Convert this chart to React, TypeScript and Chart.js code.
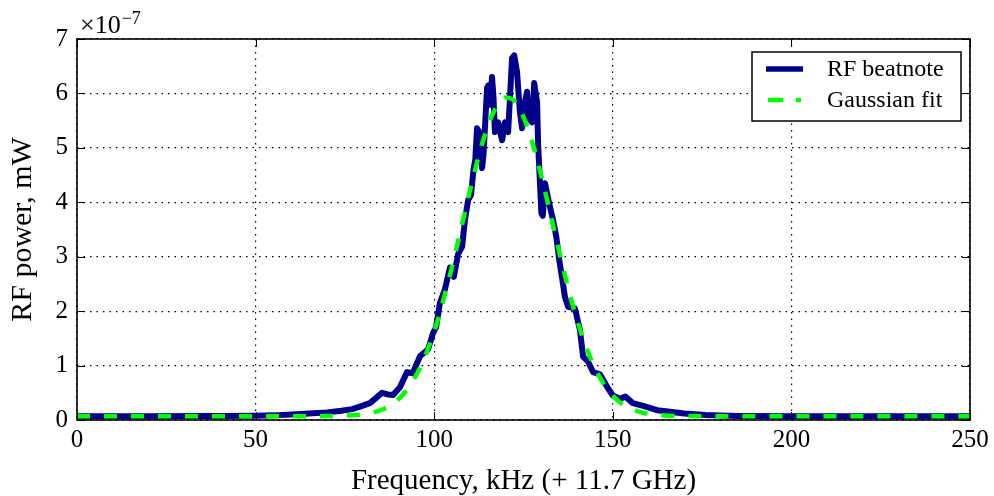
import React, { useEffect, useRef } from "react";
import { Chart, registerables } from "chart.js";

Chart.register(...registerables);

// Measured RF beatnote (x: kHz offset from 11.7 GHz, y: power in units of 1e-7 mW)
const rfFreq = [0, 20, 40, 50, 55, 60, 65, 70, 74, 77, 79, 82, 84, 85.4, 87, 88.5, 90.4, 92.4, 94, 96, 98.3, 99.7, 100.5, 101.6, 103, 104.4, 105.5, 106.7, 107.8, 108.6, 109.5, 110.3, 111, 111.5, 112, 112.8, 113.4, 113.8, 114.8, 115.2, 115.6, 116.2, 116.6, 117, 117.9, 119, 119.8, 120.7, 121.8, 122.4, 123.2, 124, 124.6, 125.4, 126, 126.3, 127.4, 128, 128.8, 129.1, 129.6, 130, 130.4, 131, 132.3, 133.2, 134.2, 135, 135.9, 136.6, 137.5, 139.4, 140.8, 141.7, 143, 144.5, 146.4, 148.4, 150, 152, 153.5, 155.6, 158.5, 162.4, 166, 170, 176, 185, 200, 250];
const rfPower = [0.07, 0.07, 0.075, 0.08, 0.085, 0.1, 0.12, 0.14, 0.17, 0.2, 0.24, 0.31, 0.42, 0.5, 0.47, 0.46, 0.6, 0.88, 0.86, 1.17, 1.3, 1.6, 1.7, 2.15, 2.4, 2.8, 2.63, 3.05, 3.18, 3.67, 4.04, 4.13, 4.6, 4.78, 5.36, 5.27, 4.63, 4.87, 6.1, 6.15, 5.79, 6.3, 5.92, 5.29, 5.47, 5.14, 5.47, 5.29, 6.65, 6.7, 6.39, 5.66, 5.36, 5.84, 6.03, 5.55, 5.47, 6.19, 5.84, 5.05, 4.37, 3.8, 3.75, 4.35, 3.95, 3.7, 3.36, 2.94, 2.57, 2.26, 2.08, 2.05, 1.65, 1.16, 1.08, 0.88, 0.84, 0.61, 0.45, 0.39, 0.43, 0.31, 0.26, 0.18, 0.15, 0.12, 0.09, 0.075, 0.07, 0.07];

// Gaussian fit curve
const fitFreq = [0, 50, 66, 70, 74, 78, 80, 82, 84, 86, 88, 90, 92, 94, 96, 98, 100, 102, 104, 106, 108, 110, 112, 114, 116, 118, 120, 122, 124, 126, 128, 130, 132, 134, 136, 138, 140, 142, 144, 146, 148, 150, 152, 154, 156, 158, 160, 163, 166, 170, 180, 250];
const fitPower = [0.07, 0.07, 0.07, 0.072, 0.076, 0.09, 0.1, 0.125, 0.158, 0.208, 0.28, 0.383, 0.524, 0.712, 0.955, 1.26, 1.63, 2.065, 2.557, 3.09, 3.65, 4.21, 4.737, 5.2, 5.567, 5.816, 5.925, 5.888, 5.71, 5.397, 4.98, 4.48, 3.934, 3.37, 2.82, 2.3, 1.84, 1.44, 1.1, 0.826, 0.611, 0.448, 0.327, 0.241, 0.181, 0.14, 0.113, 0.09, 0.079, 0.073, 0.07, 0.07];

const xTicks = [0, 50, 100, 150, 200, 250];
const yTicks = [0, 1, 2, 3, 4, 5, 6, 7];
const seriesNames = ["RF beatnote", "Gaussian fit"];
const xTitle = "Frequency, kHz (+ 11.7 GHz)";
const yTitle = "RF power, mW";

const FONT = "'Liberation Serif', 'Times New Roman', serif";
const BLUE = "#00008b";
const GREEN = "#00ff00";

const overlay = {
  id: "overlay",
  afterDraw(chart: any) {
    const { ctx, chartArea: a, scales } = chart;
    const xs = scales.x;
    const ys = scales.y;
    ctx.save();
    // inward ticks on all four sides
    ctx.strokeStyle = "#000";
    ctx.lineWidth = 1;
    ctx.beginPath();
    for (const v of xTicks) {
      const px = Math.round(xs.getPixelForValue(v)) + 0.5;
      ctx.moveTo(px, a.bottom);
      ctx.lineTo(px, a.bottom - 8);
      ctx.moveTo(px, a.top);
      ctx.lineTo(px, a.top + 8);
    }
    for (const v of yTicks) {
      const py = Math.round(ys.getPixelForValue(v)) + 0.5;
      ctx.moveTo(a.left, py);
      ctx.lineTo(a.left + 8, py);
      ctx.moveTo(a.right, py);
      ctx.lineTo(a.right - 8, py);
    }
    ctx.stroke();
    // frame
    ctx.lineWidth = 1.6;
    ctx.strokeRect(a.left, a.top, a.right - a.left, a.bottom - a.top);

    // legend
    const lx = 752, ly = 52, lw = 209, lh = 69;
    ctx.fillStyle = "#fff";
    ctx.fillRect(lx, ly, lw, lh);
    ctx.lineWidth = 1.5;
    ctx.strokeStyle = "#000";
    ctx.strokeRect(lx, ly, lw, lh);
    ctx.lineCap = "butt";
    ctx.strokeStyle = BLUE;
    ctx.lineWidth = 5.5;
    ctx.beginPath();
    ctx.moveTo(766, 69);
    ctx.lineTo(803, 69);
    ctx.stroke();
    ctx.strokeStyle = GREEN;
    ctx.lineWidth = 4.5;
    ctx.beginPath();
    ctx.moveTo(768, 100);
    ctx.lineTo(783, 100);
    ctx.moveTo(796, 100);
    ctx.lineTo(801, 100);
    ctx.stroke();
    ctx.fillStyle = "#000";
    ctx.font = `24px ${FONT}`;
    ctx.textAlign = "left";
    ctx.textBaseline = "middle";
    ctx.fillText(seriesNames[0], 827, 70);
    ctx.fillText(seriesNames[1], 827, 101);

    // axis titles
    ctx.font = `29px ${FONT}`;
    ctx.textAlign = "center";
    ctx.fillText(xTitle, (a.left + a.right) / 2, 481);
    ctx.save();
    ctx.translate(23, (a.top + a.bottom) / 2);
    ctx.rotate(-Math.PI / 2);
    ctx.font = `30px ${FONT}`;
    ctx.fillText(yTitle, 0, 0);
    ctx.restore();

    // exponent label
    ctx.textAlign = "left";
    ctx.textBaseline = "alphabetic";
    ctx.font = `26px ${FONT}`;
    ctx.fillText("\u00d710", 80, 33);
    const w = ctx.measureText("\u00d710").width;
    ctx.font = `18px ${FONT}`;
    ctx.fillText("\u22127", 80 + w + 1, 24);
    ctx.restore();
  },
};

export default function App() {
  const ref = useRef<HTMLCanvasElement | null>(null);
  useEffect(() => {
    const canvas = ref.current;
    if (!canvas) return;
    const chart = new Chart(canvas, {
      type: "line",
      data: {
        datasets: [
          {
            label: seriesNames[1],
            data: fitFreq.map((x, i) => ({ x, y: fitPower[i] })),
            borderColor: GREEN,
            borderWidth: 4.5,
            borderDash: [13, 14],
            pointRadius: 0,
            cubicInterpolationMode: "monotone",
            fill: false,
            order: 0,
          },
          {
            label: seriesNames[0],
            data: rfFreq.map((x, i) => ({ x, y: rfPower[i] })),
            borderColor: BLUE,
            borderWidth: 6,
            borderJoinStyle: "round",
            borderCapStyle: "round",
            pointRadius: 0,
            tension: 0,
            fill: false,
            order: 1,
          },
        ],
      },
      options: {
        animation: false,
        responsive: false,
        maintainAspectRatio: false,
        layout: { padding: { top: 39, right: 24, left: 0, bottom: 0 } },
        plugins: { legend: { display: false }, tooltip: { enabled: false } },
        scales: {
          x: {
            type: "linear",
            min: 0,
            max: 250,
            afterFit: (s: any) => {
              s.height = 76;
            },
            afterBuildTicks: (s: any) => {
              s.ticks = xTicks.map((v) => ({ value: v }));
            },
            ticks: {
              font: { family: FONT, size: 25 },
              color: "#000",
              padding: 5,
              maxRotation: 0,
            },
            grid: { color: "#000", lineWidth: 1.2, drawTicks: false },
            border: { display: false, dash: [1.5, 5] },
          },
          y: {
            type: "linear",
            min: 0,
            max: 7,
            afterFit: (s: any) => {
              s.width = 77;
            },
            afterBuildTicks: (s: any) => {
              s.ticks = yTicks.map((v) => ({ value: v }));
            },
            ticks: {
              font: { family: FONT, size: 25 },
              color: "#000",
              padding: 9,
            },
            grid: { color: "#000", lineWidth: 1.2, drawTicks: false },
            border: { display: false, dash: [1.5, 5] },
          },
        },
      },
      plugins: [overlay],
    });
    return () => chart.destroy();
  }, []);
  return (
    <div style={{ position: "fixed", left: 0, top: 0, width: 994, height: 496, background: "#fff" }}>
      <canvas ref={ref} width={994} height={496} style={{ width: 994, height: 496, display: "block" }} />
    </div>
  );
}
